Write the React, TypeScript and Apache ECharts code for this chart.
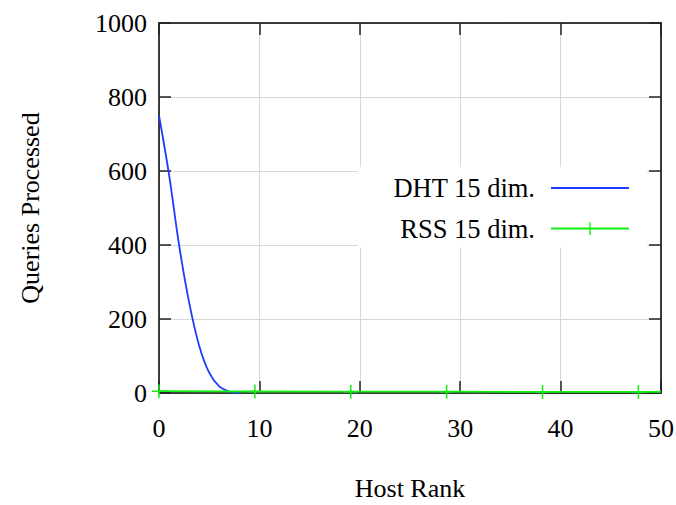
import React, { useEffect, useRef } from "react";
import * as echarts from "echarts";

const xTicks = { min: 0, max: 50, interval: 10 };
const yTicks = { min: 0, max: 1000, interval: 200 };

const dhtName = "DHT 15 dim.";
const dhtRank = [0, 1, 2, 3, 4, 5, 6, 7, 8];
const dhtQueries = [750, 590, 400, 245, 128, 55, 18, 4, 0];

const rssName = "RSS 15 dim.";
const rssRank = [0, 9.55, 19.1, 28.65, 38.2, 47.75, 50];
const rssQueries = [5, 4, 3.5, 3.5, 3, 3, 3];

const xTitle = "Host Rank";
const yTitle = "Queries Processed";

const FONT = "Liberation Serif";
const PLUS = "path://M6.25,0h1.5v6.25h6.25v1.5h-6.25v6.25h-1.5v-6.25h-6.25v-1.5h6.25z";

export default function App() {
  const ref = useRef<HTMLDivElement>(null);
  useEffect(() => {
    if (!ref.current) return;
    const chart = echarts.init(ref.current, null, { renderer: "svg" });
    const axisLine = { show: true, onZero: false, lineStyle: { color: "#000", width: 1.5 } };
    const tick = { show: true, inside: true, length: 12, lineStyle: { color: "#222", width: 1.5 } };
    const fmt = (v: number) => String(v);
    chart.setOption({
      animation: false,
      backgroundColor: "#fff",
      grid: { left: 159, right: 15, top: 23, bottom: 112, containLabel: false, outerBoundsMode: "none" },
      legend: {
        orient: "vertical",
        right: 29,
        top: 167,
        align: "right",
        backgroundColor: "#fff",
        padding: [7, 17, 5, 35],
        itemWidth: 78,
        itemHeight: 16,
        itemGap: 12.6,
        data: [{ name: dhtName, itemStyle: { opacity: 0 } }, { name: rssName }],
        textStyle: { fontFamily: FONT, fontSize: 26.5, color: "#000", lineHeight: 28, padding: [0, 11, 0, 0] },
      },
      xAxis: [
        {
          type: "value",
          ...xTicks,
          name: xTitle,
          nameLocation: "middle",
          nameGap: 82,
          nameTextStyle: { fontFamily: FONT, fontSize: 26, color: "#000" },
          axisLine,
          axisTick: tick,
          axisLabel: { fontFamily: FONT, fontSize: 26, color: "#000", margin: 22, formatter: fmt },
          splitLine: { show: true, lineStyle: { color: "#d8d8d8", width: 1 } },
        },
        {
          type: "value",
          position: "top",
          ...xTicks,
          axisLine,
          axisTick: tick,
          axisLabel: { show: false },
          splitLine: { show: false },
        },
      ],
      yAxis: [
        {
          type: "value",
          ...yTicks,
          name: yTitle,
          nameLocation: "middle",
          nameGap: 116,
          nameRotate: 90,
          nameTextStyle: { fontFamily: FONT, fontSize: 26, color: "#000" },
          axisLine,
          axisTick: tick,
          axisLabel: { fontFamily: FONT, fontSize: 26, color: "#000", margin: 12, formatter: fmt },
          splitLine: { show: true, lineStyle: { color: "#d8d8d8", width: 1 } },
        },
        {
          type: "value",
          position: "right",
          ...yTicks,
          axisLine,
          axisTick: tick,
          axisLabel: { show: false },
          splitLine: { show: false },
        },
      ],
      series: [
        {
          name: dhtName,
          type: "line",
          data: dhtRank.map((r, i) => [r, dhtQueries[i]]),
          smooth: 0.35,
          showSymbol: false,
          symbol: "none",
          color: "#1d3bff",
          lineStyle: { color: "#1d3bff", width: 1.8 },
        },
        {
          name: rssName,
          type: "line",
          data: rssRank.map((r, i) =>
            i === rssRank.length - 1
              ? { value: [r, rssQueries[i]], symbol: "none" }
              : { value: [r, rssQueries[i]] }
          ),
          symbol: PLUS,
          symbolSize: 14,
          showAllSymbol: true,
          color: "#11ee11",
          itemStyle: { color: "#11ee11" },
          lineStyle: { color: "#11ee11", width: 1.8 },
        },
      ],
    });
    return () => chart.dispose();
  }, []);
  return (
    <div
      ref={ref}
      style={{ position: "fixed", left: 0, top: 0, width: 676, height: 505 }}
    />
  );
}
